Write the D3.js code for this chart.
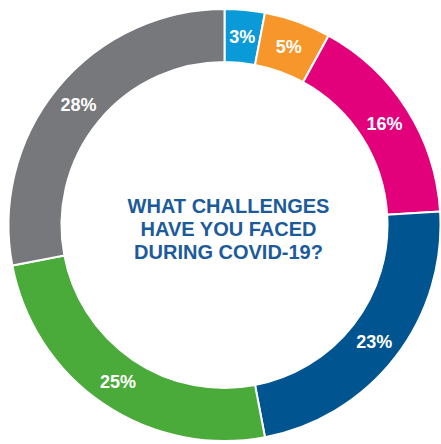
<!DOCTYPE html>
<html>
<head>
<meta charset="utf-8">
<script src="https://cdn.jsdelivr.net/npm/d3@7"></script>
<style>
  html, body { margin: 0; padding: 0; background: #fff; }
  svg { display: block; }
</style>
</head>
<body>
<svg width="441" height="444"></svg>
<script>
// slice data, clockwise from 12 o'clock
let categories = ["a", "b", "c", "d", "e", "f"];
let values = [3, 5, 16, 23, 25, 28];
let colors = ["#0b9ad8", "#f7972b", "#e3007b", "#00548f", "#4bab3a", "#77787c"];
let title = ["WHAT CHALLENGES", "HAVE YOU FACED", "DURING COVID-19?"];

let svg = d3.select("svg"),
	cx = 224.5,
	cy = 225,
	outer = 216,
	inner = 163;

let g = svg.append("g").attr("transform", `translate(${cx},${cy})`);

let pie = d3.pie().sort(null).value(d => d.v);
let arc = d3.arc().innerRadius(inner).outerRadius(outer);
let labelArc = d3.arc().innerRadius((inner + outer) / 2).outerRadius((inner + outer) / 2);

let data = pie(categories.map((c, i) => ({ c: c, v: values[i], col: colors[i] })));

g.selectAll("path.slice")
	.data(data)
	.enter().append("path")
		.attr("class", "slice")
		.attr("d", arc)
		.attr("fill", d => d.data.col)
		.attr("stroke", "#fff")
		.attr("stroke-width", 2);

g.selectAll("text.lbl")
	.data(data)
	.enter().append("text")
		.attr("class", "lbl")
		.attr("transform", d => `translate(${labelArc.centroid(d)})`)
		.attr("text-anchor", "middle")
		.attr("dy", "0.36em")
		.attr("fill", "#fff")
		.attr("font-family", "Liberation Sans, Arial, sans-serif")
		.attr("font-weight", "bold")
		.attr("font-size", 18)
		.text(d => d.data.v + "%");

g.selectAll("text.title")
	.data(title)
	.enter().append("text")
		.attr("class", "title")
		.attr("x", 4)
		.attr("y", (d, i) => -12 + i * 23)
		.attr("text-anchor", "middle")
		.attr("fill", "#1c5b9b")
		.attr("font-family", "Liberation Sans, Arial, sans-serif")
		.attr("font-weight", "bold")
		.attr("font-size", 20)
		.text(d => d);
</script>
</body>
</html>
